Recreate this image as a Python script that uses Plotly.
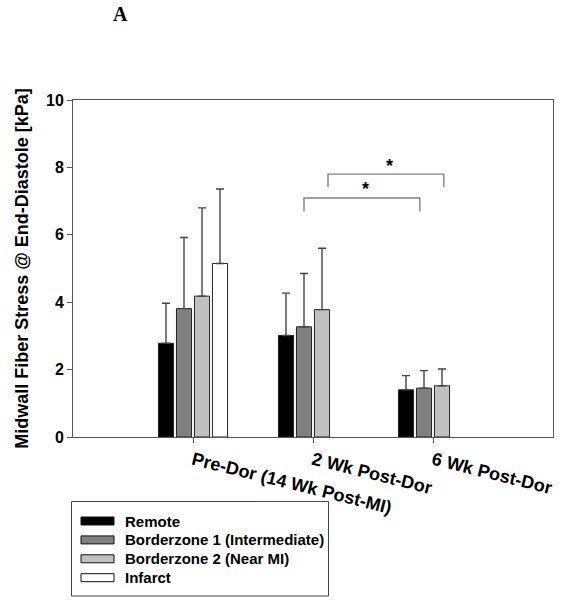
import plotly.graph_objects as go

# ---- data ----
categories = ["Pre-Dor (14 Wk Post-MI)", "2 Wk Post-Dor", "6 Wk Post-Dor"]
series_names = ["Remote", "Borderzone 1 (Intermediate)", "Borderzone 2 (Near MI)", "Infarct"]
remote_mean = [2.78, 3.01, 1.40]
remote_sd = [1.19, 1.26, 0.42]
bz1_mean = [3.81, 3.27, 1.45]
bz1_sd = [2.11, 1.58, 0.52]
bz2_mean = [4.18, 3.78, 1.52]
bz2_sd = [2.62, 1.82, 0.50]
infarct_mean = [5.15, None, None]
infarct_sd = [2.21, None, None]
y_ticks = [0, 2, 4, 6, 8, 10]

# significance brackets
sig_left = [0.925, 1.125]
sig_right = [1.89, 2.09]
sig_top = [7.09, 7.80]
sig_bottom = [6.69, 7.42]
sig_star_x = [1.44, 1.64]
sig_star_y = [7.35, 8.05]

colors = ["#000000", "#808080", "#c0c0c0", "#ffffff"]
means = [remote_mean, bz1_mean, bz2_mean, infarct_mean]
sds = [remote_sd, bz1_sd, bz2_sd, infarct_sd]

# figure geometry (pixels)
W, H = 562, 600
ML, MR, MT, MB = 73, 9, 100, 163
PW, PH = W - ML - MR, H - MT - MB


def px_x(p):
    return (p - ML) / PW


def px_y(p):
    return (H - MB - p) / PH


fig = go.Figure()
for name, m, s, c in zip(series_names, means, sds, colors):
    fig.add_trace(go.Bar(
        name=name, x=categories, y=m, showlegend=False,
        marker=dict(color=c, line=dict(color="#222222", width=1)),
        error_y=dict(type="data", array=s, arrayminus=[0] * len(s), symmetric=False,
                     color="#444444", thickness=1.4, width=4),
    ))

for i in range(len(sig_left)):
    fig.add_shape(type="path", xref="x", yref="y",
                  path=f"M {sig_left[i]},{sig_bottom[i]} L {sig_left[i]},{sig_top[i]} "
                       f"L {sig_right[i]},{sig_top[i]} L {sig_right[i]},{sig_bottom[i]}",
                  line=dict(color="#808080", width=1.4))
    fig.add_annotation(x=sig_star_x[i], y=sig_star_y[i], xref="x", yref="y", text="<b>*</b>",
                       showarrow=False, font=dict(size=18, color="#000000", family="Arial"))

# panel letter
fig.add_annotation(x=px_x(111), y=px_y(14), xref="paper", yref="paper",
                   text="<b>A</b>", showarrow=False, yanchor="middle",
                   font=dict(family="Liberation Serif", size=20, color="#000"))

# legend box (drawn to match the original boxed legend)
fig.add_shape(type="rect", xref="paper", yref="paper",
              x0=px_x(71.5), x1=px_x(328.5), y0=px_y(596), y1=px_y(501.5),
              line=dict(color="#444444", width=1), fillcolor="white", layer="below")
for k, (name, c) in enumerate(zip(series_names, colors)):
    cy = 521 + k * 18.9
    fig.add_shape(type="rect", xref="paper", yref="paper",
                  x0=px_x(81), x1=px_x(114), y0=px_y(cy + 4), y1=px_y(cy - 4),
                  line=dict(color="#111111", width=1), fillcolor=c)
    fig.add_annotation(x=px_x(123), y=px_y(cy), xref="paper", yref="paper",
                       text=f"<b>{name}</b>", showarrow=False, xanchor="left", yanchor="middle",
                       font=dict(size=15, family="Arial", color="#000"))

fig.update_layout(
    width=W, height=H,
    margin=dict(l=ML, r=MR, t=MT, b=MB, autoexpand=False),
    paper_bgcolor="white", plot_bgcolor="white",
    barmode="group", bargap=0.4, bargroupgap=0.16,
    font=dict(family="Arial", color="#000000"),
    xaxis=dict(range=[-1, 3], type="category", showline=True, linecolor="#555555", linewidth=1,
               mirror=True, ticks="outside", ticklen=5, tickcolor="#555555", tickangle=14,
               automargin=False,
               tickfont=dict(size=18, family="Arial", color="#000", weight="bold"), showgrid=False),
    yaxis=dict(range=[0, 10], tickvals=y_ticks, showline=True, linecolor="#555555", linewidth=1,
               mirror=True, ticks="outside", ticklen=5, tickcolor="#555555", automargin=False,
               tickfont=dict(size=16, family="Arial", color="#000", weight="bold"),
               showgrid=False, zeroline=False,
               title=dict(text="<b>Midwall Fiber Stress @ End-Diastole [kPa]</b>",
                          font=dict(size=18, family="Arial", color="#000"), standoff=12)),
    showlegend=False,
)

fig.write_html("out.html", config={"displayModeBar": False},
               post_script="document.body.style.margin='0';document.body.style.overflow='hidden';")
